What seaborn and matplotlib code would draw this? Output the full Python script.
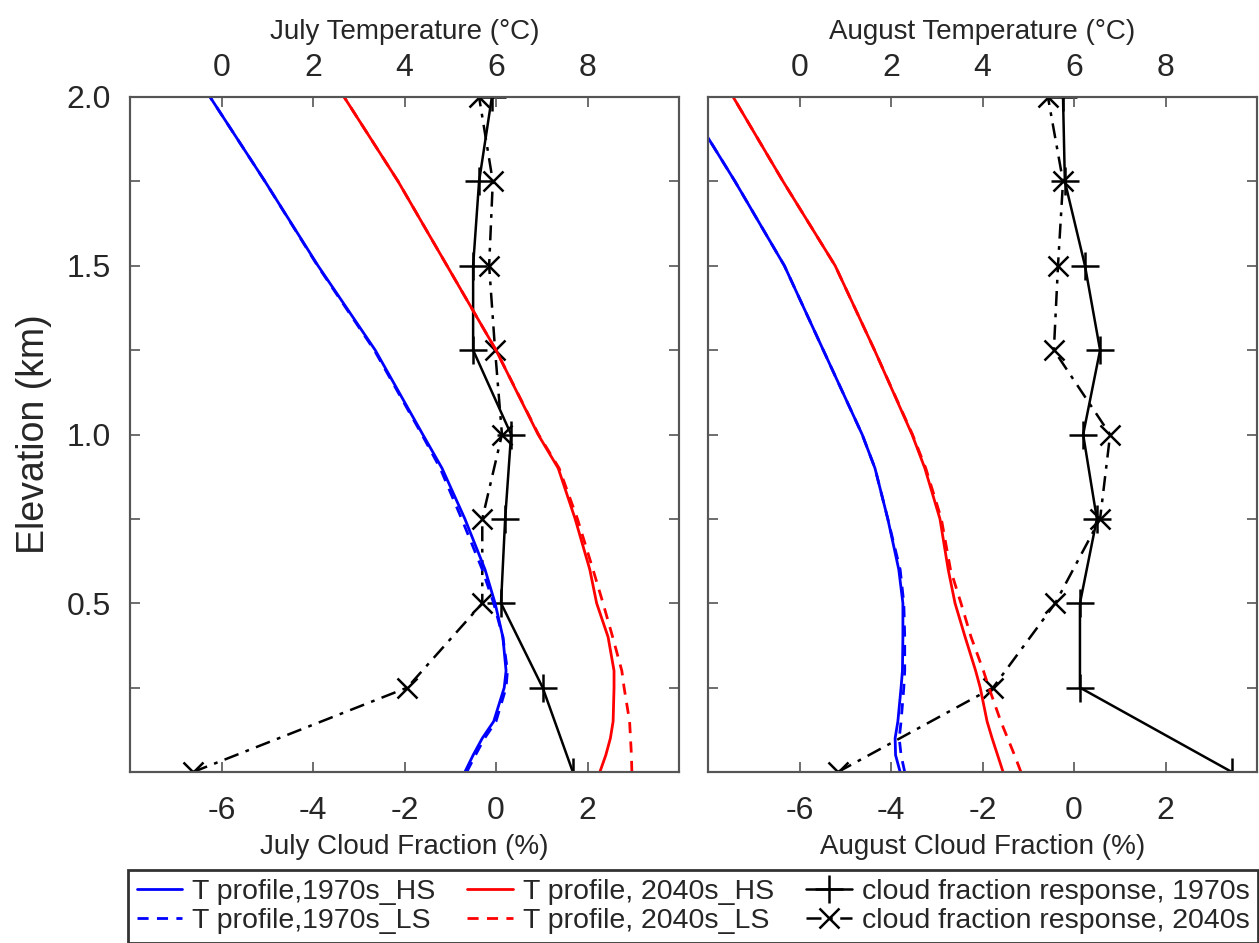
import numpy as np
import matplotlib.pyplot as plt
import seaborn as sns

# cloud fraction response levels (km) and values (%)
cloud_elev = [0.0, 0.25, 0.5, 0.75, 1.0, 1.25, 1.5, 1.75, 2.0]
jul_cloud_1970 = [1.68, 1.02, 0.11, 0.20, 0.33, -0.50, -0.50, -0.37, -0.09]
jul_cloud_2040 = [-6.62, -1.94, -0.30, -0.30, 0.13, -0.02, -0.15, -0.07, -0.37]
aug_cloud_1970 = [3.45, 0.13, 0.13, 0.50, 0.20, 0.57, 0.24, -0.20, -0.24]
aug_cloud_2040 = [-5.16, -1.77, -0.41, 0.57, 0.79, -0.44, -0.35, -0.24, -0.57]

# temperature profiles (deg C)
t_elev = [0.0, 0.05, 0.1, 0.15, 0.25, 0.3, 0.4, 0.5, 0.6, 0.75, 0.9, 1.0, 1.25, 1.5, 1.75, 2.0]
jul_t_1970_hs = [5.32, 5.50, 5.70, 5.95, 6.18, 6.22, 6.15, 5.98, 5.76, 5.32, 4.82, 4.40, 3.36, 2.11, 0.95, -0.25]
jul_t_1970_ls = [5.36, 5.55, 5.75, 6.00, 6.22, 6.25, 6.15, 5.95, 5.70, 5.25, 4.78, 4.38, 3.34, 2.10, 0.95, -0.25]
jul_t_2040_hs = [8.27, 8.40, 8.50, 8.56, 8.58, 8.58, 8.45, 8.20, 8.05, 7.73, 7.36, 6.92, 6.00, 4.93, 3.86, 2.68]
jul_t_2040_ls = [8.97, 8.96, 8.94, 8.92, 8.80, 8.75, 8.55, 8.34, 8.12, 7.78, 7.38, 6.93, 6.00, 4.93, 3.86, 2.68]
aug_t_1970_hs = [2.20, 2.10, 2.09, 2.15, 2.22, 2.25, 2.26, 2.26, 2.17, 1.93, 1.65, 1.37, 0.52, -0.33, -1.41, -2.55]
aug_t_1970_ls = [2.30, 2.22, 2.18, 2.22, 2.28, 2.30, 2.30, 2.28, 2.20, 1.93, 1.65, 1.37, 0.52, -0.33, -1.41, -2.55]
aug_t_2040_hs = [4.45, 4.33, 4.21, 4.10, 3.95, 3.85, 3.62, 3.40, 3.25, 3.07, 2.74, 2.46, 1.64, 0.78, -0.36, -1.45]
aug_t_2040_ls = [4.84, 4.70, 4.55, 4.40, 4.14, 4.02, 3.75, 3.53, 3.30, 3.10, 2.76, 2.47, 1.64, 0.78, -0.36, -1.45]

cf_ticks = [-6, -4, -2, 0, 2]
t_ticks = [0, 2, 4, 6, 8]
y_ticks = np.arange(0, 2.01, 0.25)

sns.set_style('white')
plt.rcParams['font.family'] = ['Liberation Sans', 'DejaVu Sans']
plt.rcParams['axes.unicode_minus'] = False

spine_c = '#555555'
dashdot = (0, (6, 3, 1.5, 3))
fig = plt.figure(figsize=(12.59, 9.43), dpi=100)
W, H = 1259, 943
ax1 = fig.add_axes([130 / W, 171 / H, 549 / W, 675 / H])
ax2 = fig.add_axes([708 / W, 171 / H, 549 / W, 675 / H])

panels = [
    (ax1, 'July', jul_cloud_1970, jul_cloud_2040,
     jul_t_1970_hs, jul_t_1970_ls, jul_t_2040_hs, jul_t_2040_ls),
    (ax2, 'August', aug_cloud_1970, aug_cloud_2040,
     aug_t_1970_hs, aug_t_1970_ls, aug_t_2040_hs, aug_t_2040_ls),
]

handles, labels = None, None
for k, (ax, month, c70, c40, b_hs, b_ls, r_hs, r_ls) in enumerate(panels):
    # cloud fraction response on bottom axis
    sns.lineplot(x=c70, y=cloud_elev, sort=False, estimator=None, orient='y', ax=ax,
                 color='black', lw=1.8, marker='+', markersize=20, mew=1.8, mec='black',
                 label='cloud fraction response, 1970s')
    sns.lineplot(x=c40, y=cloud_elev, sort=False, estimator=None, orient='y', ax=ax,
                 color='black', lw=1.8, ls=dashdot, marker='x', markersize=14, mew=1.8,
                 mec='black', label='cloud fraction response, 2040s')

    # temperature profiles on top axis
    tx = ax.twiny()
    prof = [(b_hs, '#0000ff', '-', 'T profile,1970s_HS'),
            (b_ls, '#0000ff', (0, (4, 3)), 'T profile,1970s_LS'),
            (r_hs, '#ff0000', '-', 'T profile, 2040s_HS'),
            (r_ls, '#ff0000', (0, (4, 3)), 'T profile, 2040s_LS')]
    for vals, col, style, lab in prof:
        sns.lineplot(x=vals, y=t_elev, sort=False, estimator=None, orient='y', ax=tx,
                     color=col, lw=2.0, ls=style, label=lab)

    if handles is None:
        th, tl = tx.get_legend_handles_labels()
        ch, cl = ax.get_legend_handles_labels()
        handles, labels = th + ch, tl + cl
    for a in (ax, tx):
        if a.get_legend() is not None:
            a.get_legend().remove()

    ax.set_xlim(-8, 4)
    tx.set_xlim(-2, 10)
    ax.set_ylim(0, 2.0)
    tx.set_ylim(0, 2.0)
    ax.set_xticks(cf_ticks)
    tx.set_xticks(t_ticks)
    ax.set_yticks(y_ticks)
    if k == 0:
        ax.set_yticklabels(['' if (v == 0 or (v * 2) % 1) else f'{v:.1f}' for v in y_ticks])
        ax.set_ylabel('Elevation (km)', fontsize=27, labelpad=10)
    else:
        ax.set_yticklabels([])
        ax.set_ylabel('')
    ax.set_xlabel(f'{month} Cloud Fraction (%)', fontsize=20, labelpad=6)
    tx.set_xlabel(f'{month} Temperature (°C)', fontsize=20, labelpad=10)
    tx.set_ylabel('')

    ax.tick_params(axis='both', direction='in', length=7, width=1.2, color=spine_c,
                   labelsize=23, right=True, left=True, bottom=True, top=False)
    ax.tick_params(axis='x', pad=17)
    ax.tick_params(axis='y', pad=14)
    tx.tick_params(axis='x', direction='in', length=7, width=1.2, color=spine_c,
                   labelsize=23, pad=10)
    tx.tick_params(axis='y', left=False, right=False, labelleft=False, labelright=False)
    for a in (ax, tx):
        for s in a.spines.values():
            s.set_color(spine_c)
            s.set_linewidth(1.5)

leg = fig.legend(handles, labels,
                 loc='upper left', ncol=3, mode='expand',
                 bbox_to_anchor=(128 / W, -0.2, 1130 / W, 0.2 + 1 - 870 / H),
                 fontsize=20.5, frameon=True, fancybox=False, borderaxespad=0,
                 handlelength=1.6, handletextpad=0.35, labelspacing=0.12,
                 borderpad=0.3, columnspacing=0.8)
leg.get_frame().set_edgecolor('black')
leg.get_frame().set_linewidth(2.0)

fig.savefig('out.png', dpi=100)
